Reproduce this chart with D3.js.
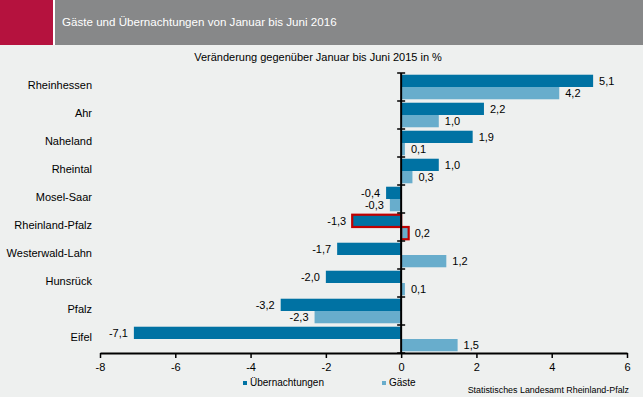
<!DOCTYPE html>
<html><head><meta charset="utf-8">
<script src="https://cdn.jsdelivr.net/npm/d3@7"></script>
<style>
html,body{margin:0;padding:0;background:#eef0ef;}
svg{display:block;font-family:"Liberation Sans",Arial,sans-serif;}
</style></head>
<body>
<svg id="c" width="643" height="397"></svg>
<script>
const categories = ["Rheinhessen","Ahr","Naheland","Rheintal","Mosel-Saar","Rheinland-Pfalz","Westerwald-Lahn","Hunsrück","Pfalz","Eifel"];
const uebernachtungen = [5.1, 2.2, 1.9, 1.0, -0.4, -1.3, -1.7, -2.0, -3.2, -7.1];
const gaeste = [4.2, 1.0, 0.1, 0.3, -0.3, 0.2, 1.2, 0.1, -2.3, 1.5];
const xTicks = [-8,-6,-4,-2,0,2,4,6];
const seriesNames = ["Übernachtungen","Gäste"];
const highlight = "Rheinland-Pfalz";

const colors = ["#0072a3","#68adcc"];
const svg = d3.select("#c");
const W = 643, H = 397;
svg.append("rect").attr("width",W).attr("height",H).attr("fill","#eef0ef");
// header
svg.append("rect").attr("x",0).attr("y",0).attr("width",W).attr("height",45).attr("fill","#878889");
svg.append("rect").attr("x",0).attr("y",0).attr("width",53).attr("height",45).attr("fill","#b5123e");
svg.append("rect").attr("x",53).attr("y",0).attr("width",2).attr("height",45).attr("fill","#ffffff");
svg.append("text").attr("x",62).attr("y",26).attr("fill","#fff").attr("font-size",11.6)
  .text("Gäste und Übernachtungen von Januar bis Juni 2016");
svg.append("text").attr("x",318).attr("y",61).attr("text-anchor","middle").attr("font-size",11).attr("fill","#000")
  .text("Veränderung gegenüber Januar bis Juni 2015 in %");

const x = d3.scaleLinear().domain([-8,6]).range([100,627]);
const y = d3.scaleBand().domain(categories).range([73,353]).paddingInner(0).paddingOuter(0);
const inner = d3.scaleBand().domain([0,1]).range([0,y.bandwidth()]).paddingOuter(0.14).paddingInner(0);

const fmt = v => d3.format(".1f")(v).replace(".",",").replace("−","-");
const data = [];
categories.forEach((c,i)=>{
  data.push({c, s:0, v:uebernachtungen[i]});
  data.push({c, s:1, v:gaeste[i]});
});

const g = svg.append("g");
g.selectAll("rect.bar").data(data).enter().append("rect").attr("class","bar")
  .attr("x",d=>x(Math.min(0,d.v)))
  .attr("y",d=>y(d.c)+inner(d.s))
  .attr("width",d=>Math.abs(x(d.v)-x(0)))
  .attr("height",inner.bandwidth())
  .attr("fill",d=>colors[d.s])
  .attr("stroke",d=>d.c===highlight?"#c00000":"none")
  .attr("stroke-width",2.2);

g.selectAll("text.val").data(data).enter().append("text").attr("class","val")
  .attr("x",d=>d.v>=0? x(d.v)+6 : x(d.v)-6)
  .attr("y",d=>y(d.c)+inner(d.s)+inner.bandwidth()/2+4)
  .attr("text-anchor",d=>d.v>=0?"start":"end")
  .attr("font-size",11).attr("fill","#000")
  .text(d=>fmt(d.v));

// y axis (at zero)
const yAxisG = svg.append("g").attr("transform",`translate(${x(0)},0)`);
yAxisG.append("line").attr("x1",0).attr("x2",0).attr("y1",73).attr("y2",353).attr("stroke","#000").attr("stroke-width",2);
const yTickPos = d3.range(categories.length+1).map(i=>73+i*y.step());
yAxisG.selectAll("line.t").data(yTickPos).enter().append("line")
  .attr("x1",-4).attr("x2",4).attr("y1",d=>d).attr("y2",d=>d).attr("stroke","#000").attr("stroke-width",1.5);

// category labels
svg.append("g").selectAll("text").data(categories).enter().append("text")
  .attr("x",92).attr("y",d=>y(d)+y.bandwidth()/2+2)
  .attr("text-anchor","end").attr("font-size",11).attr("fill","#000")
  .text(d=>d);

// x axis
const xa = svg.append("g").attr("transform","translate(0,353)")
  .call(d3.axisBottom(x).tickValues(xTicks).tickSize(5).tickSizeOuter(0).tickFormat(d=>String(d)));
xa.select(".domain").attr("stroke","#000").attr("stroke-width",2);
xa.selectAll(".tick line").attr("stroke","#000").attr("stroke-width",1.5);
xa.selectAll(".tick text").attr("font-size",11).attr("fill","#000").attr("font-family","Liberation Sans, Arial, sans-serif").attr("dy","0.9em");

// legend
const leg = svg.append("g");
const legX = [243,382];
seriesNames.forEach((n,i)=>{
  leg.append("rect").attr("x",legX[i]).attr("y",381).attr("width",4).attr("height",4).attr("fill",colors[i]);
  leg.append("text").attr("x",legX[i]+7).attr("y",386).attr("font-size",10).attr("fill","#000").text(n);
});
svg.append("text").attr("x",629).attr("y",393).attr("text-anchor","end").attr("font-size",8.9).attr("fill","#000")
  .text("Statistisches Landesamt Rheinland-Pfalz");
</script>
</body></html>
